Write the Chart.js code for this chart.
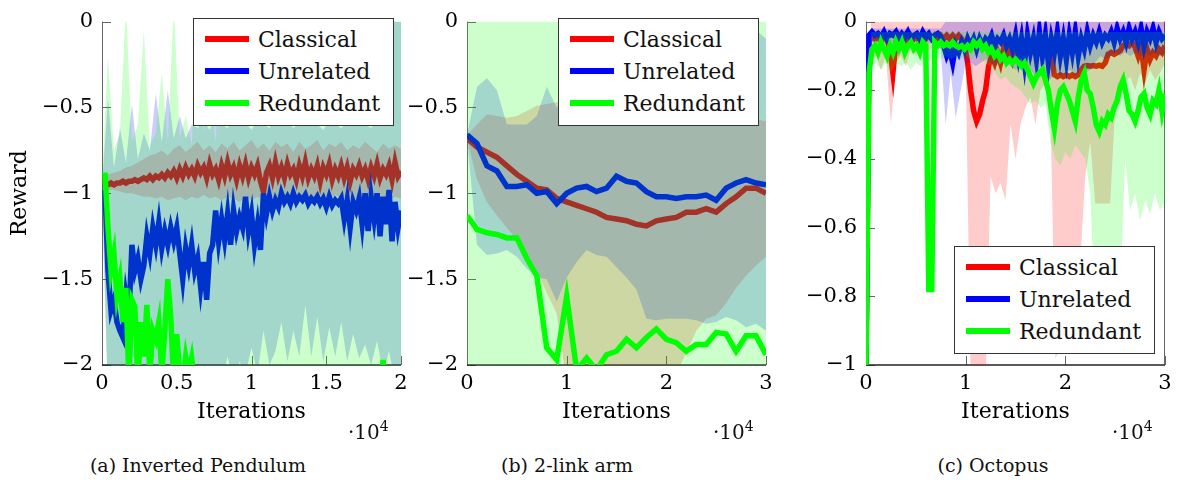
<!DOCTYPE html>
<html lang="en">
<head>
<meta charset="UTF-8">
<title>Reward over iterations</title>
<style>
    body { margin: 0; background: #fff; font-family: 'DejaVu Serif', serif; color: #111; }
    .wrap { position: relative; width: 1182px; height: 480px; overflow: hidden; }
    canvas { position: absolute; top: 0; }
    .legend { position: absolute; width: 201px; height: 108px; box-sizing: border-box; border: 1.5px solid #333; background: #fff; font-size: 22px; }
    .legend .row { position: absolute; left: 0; height: 32px; display: flex; align-items: center; white-space: nowrap; }
    .legend .swatch { width: 44px; height: 5.5px; margin-left: 11px; margin-right: 9px; }
    .mult { position: absolute; top: 418px; font-size: 20px; }
    .mult sup { font-size: 14px; }
    .caption { position: absolute; top: 454px; font-size: 19px; transform: translateX(-50%); white-space: nowrap; }
</style>
</head>
<body>
<div class="wrap">
    <canvas id="chartA" width="431" height="425" style="left:0px"></canvas>
    <canvas id="chartB" width="431" height="425" style="left:365px"></canvas>
    <canvas id="chartC" width="431" height="425" style="left:764px"></canvas>

    <!-- legends -->
    <div class="legend" style="left:193px;top:18px">
        <div class="row" style="top:4px"><span class="swatch" style="background:#ff0000"></span>Classical</div>
        <div class="row" style="top:36px"><span class="swatch" style="background:#0000ff"></span>Unrelated</div>
        <div class="row" style="top:68px"><span class="swatch" style="background:#00ff00"></span>Redundant</div>
    </div>
    <div class="legend" style="left:558px;top:18px">
        <div class="row" style="top:4px"><span class="swatch" style="background:#ff0000"></span>Classical</div>
        <div class="row" style="top:36px"><span class="swatch" style="background:#0000ff"></span>Unrelated</div>
        <div class="row" style="top:68px"><span class="swatch" style="background:#00ff00"></span>Redundant</div>
    </div>
    <div class="legend" style="left:954px;top:246px">
        <div class="row" style="top:4px"><span class="swatch" style="background:#ff0000"></span>Classical</div>
        <div class="row" style="top:36px"><span class="swatch" style="background:#0000ff"></span>Unrelated</div>
        <div class="row" style="top:68px"><span class="swatch" style="background:#00ff00"></span>Redundant</div>
    </div>

    <div class="mult" style="left:348px">·10<sup>4</sup></div>
    <div class="mult" style="left:713px">·10<sup>4</sup></div>
    <div class="mult" style="left:1112px">·10<sup>4</sup></div>

    <div class="caption" style="left:198px">(a) Inverted Pendulum</div>
    <div class="caption" style="left:567px">(b) 2-link arm</div>
    <div class="caption" style="left:993px">(c) Octopus</div>
</div>

<script src="https://cdn.jsdelivr.net/npm/chart.js"></script>
<script>
// ---------- (a) Inverted Pendulum : lines every 200 iterations, bands every 400 ----------
const stepA = 200;
const bandStepA = 400;
const redA = [
    -0.95,-0.95,-0.94,-0.95,-0.94,-0.94,-0.93,-0.94,-0.93,-0.93,
    -0.92,-0.93,-0.92,-0.91,-0.92,-0.90,-0.92,-0.90,-0.91,-0.89,
    -0.91,-0.88,-0.90,-0.87,-0.91,-0.86,-0.90,-0.85,-0.89,-0.86,
    -0.90,-0.84,-0.88,-0.85,-0.91,-0.83,-0.89,-0.86,-0.92,-0.84,
    -0.90,-0.82,-0.89,-0.85,-0.92,-0.84,-0.90,-0.83,-0.91,-0.85,
    -0.89,-0.84,-0.93,-0.99,-0.88,-0.84,-0.91,-0.82,-0.90,-0.85,
    -0.91,-0.83,-0.89,-0.86,-0.92,-0.84,-0.90,-0.82,-0.91,-0.86,
    -0.90,-0.84,-0.93,-0.85,-0.89,-0.83,-0.92,-0.86,-0.90,-0.84,
    -0.91,-0.85,-0.93,-0.86,-0.89,-0.84,-0.90,-0.86,-0.92,-0.85,
    -0.90,-0.83,-0.91,-0.86,-0.89,-0.84,-0.92,-0.82,-0.90,-0.87
];
const blueA = [
    -0.98,-1.45,-1.68,-1.62,-1.75,-1.80,-1.84,-1.60,-1.72,-1.30,
    -1.45,-1.38,-1.50,-1.42,-1.25,-1.35,-1.20,-1.30,-1.17,-1.32,
    -1.22,-1.30,-1.20,-1.28,-1.20,-1.35,-1.50,-1.32,-1.42,-1.30,
    -1.45,-1.38,-1.55,-1.40,-1.62,-1.35,-1.30,-1.10,-1.28,-1.15,
    -1.27,-1.12,-1.30,-1.10,-1.22,-1.14,-1.20,-1.02,-1.22,-1.12,
    -1.30,-1.18,-1.33,-1.00,-1.12,-1.02,-1.10,-1.04,-1.08,-1.00,
    -1.05,-1.02,-1.06,-1.00,-1.05,-1.02,-1.04,-1.01,-1.06,-1.03,
    -1.05,-1.02,-1.06,-1.03,-1.08,-1.02,-1.07,-1.04,-1.06,-1.03,
    -1.15,-1.04,-1.20,-1.05,-1.10,-1.03,-1.18,-1.00,-1.22,-1.02,
    -1.15,-1.00,-1.25,-1.02,-1.18,-0.98,-1.28,-1.05,-1.20,-1.10
];
const greenA = [
    -0.88,-1.20,-1.45,-1.35,-1.60,-1.50,-1.75,-1.55,-2.10,-1.62,
    -1.66,-2.10,-1.75,-1.95,-1.65,-2.05,-1.80,-1.85,-1.75,-2.05,
    -1.80,-1.50,-1.72,-2.10,-1.82,-2.05,-2.10,-1.95,-2.05,-1.96,
    -2.10,-2.20,-2.20,-2.20,-2.20,-2.20,-2.20,-2.20,-2.20,-2.20,
    -2.20,-2.20,-2.20,-2.20,-2.20,-2.20,-2.20,-2.20,-2.20,-2.20,
    -2.20,-2.20,-2.20,-2.20,-2.20,-2.20,-2.20,-2.20,-2.20,-2.20,
    -2.20,-2.20,-2.20,-2.20,-2.20,-2.20,-2.20,-2.20,-2.20,-2.20,
    -2.20,-2.20,-2.20,-2.20,-2.20,-2.20,-2.20,-2.20,-2.20,-2.20,
    -2.20,-2.20,-2.20,-2.20,-2.20,-2.20,-2.20,-2.20,-2.20,-2.20,
    -2.20,-2.20,-2.20,-1.97,-2.20,-2.20,-2.20,-2.20,-2.20,-2.20
];
const redHiA = [
    -0.90,-0.89,-0.88,-0.87,-0.85,-0.84,-0.82,-0.80,-0.78,-0.77,
    -0.75,-0.78,-0.74,-0.72,-0.76,-0.73,-0.70,-0.75,-0.72,-0.76,
    -0.71,-0.74,-0.70,-0.75,-0.72,-0.69,-0.74,-0.71,-0.75,-0.70,
    -0.73,-0.71,-0.76,-0.70,-0.74,-0.72,-0.69,-0.75,-0.71,-0.73,
    -0.70,-0.75,-0.72,-0.74,-0.70,-0.73,-0.76,-0.71,-0.74,-0.72,-0.74
];
const redLoA = [
    -0.97,-0.98,-0.98,-0.99,-1.00,-1.00,-1.01,-1.02,-1.02,-1.03,
    -1.02,-1.04,-1.03,-1.02,-1.04,-1.02,-1.03,-1.01,-1.03,-1.02,
    -1.04,-1.02,-1.03,-1.05,-1.02,-1.04,-1.02,-1.03,-1.01,-1.03,
    -1.02,-1.04,-1.02,-1.03,-1.01,-1.03,-1.04,-1.02,-1.03,-1.01,
    -1.03,-1.02,-1.04,-1.02,-1.03,-1.01,-1.03,-1.02,-1.04,-1.02,-1.03
];
const blueHiA = [
    -0.95,-0.45,-0.85,-0.62,-0.82,-0.48,-0.80,-0.65,-0.75,-0.42,
    -0.70,-0.40,-0.68,-0.55,-0.68,-0.60,-0.62,-0.58,-0.63,-0.56,
    -0.60,-0.62,-0.57,-0.61,-0.59,-0.63,-0.58,-0.60,-0.62,-0.57,
    -0.60,-0.58,-0.62,-0.59,-0.61,-0.57,-0.60,-0.63,-0.58,-0.60,
    -0.62,-0.59,-0.61,-0.58,-0.60,-0.62,-0.57,-0.45,-0.30,0.10,0.10
];
const blueLoA = [
    -1.00,-2.20,-2.20,-2.20,-2.20,-2.20,-2.20,-2.20,-2.20,-2.20,
    -2.20,-2.20,-2.20,-2.20,-2.20,-2.20,-2.20,-2.20,-2.20,-2.05,
    -2.10,-1.95,-2.10,-1.98,-2.05,-1.90,-2.05,-1.80,-2.00,-1.92,
    -1.75,-1.98,-1.80,-1.95,-1.65,-1.95,-1.72,-1.98,-1.78,-1.95,
    -1.75,-1.98,-1.82,-1.96,-1.88,-2.00,-1.86,-2.05,-1.92,-2.10,-2.20
];
const greenHiA = [
    -0.90,-0.20,-0.75,-0.65,0.10,-0.70,-0.60,-0.05,-0.72,-0.65,
    -0.30,-0.70,0.10,-0.68,-0.55,-0.72,0.10,-0.65,-0.40,-0.70,
    -0.10,0.10,0.10,0.10,0.10,0.10,0.10,0.10,0.10,0.10,
    0.10,0.10,0.10,0.10,0.10,0.10,0.10,0.10,0.10,0.10,
    0.10,0.10,0.10,0.10,0.10,0.10,0.10,0.10,0.10,0.10,0.10
];
const greenLoA = [
    -1.00,-2.20,-2.20,-2.20,-2.20,-2.20,-2.20,-2.20,-2.20,-2.20,
    -2.20,-2.20,-2.20,-2.20,-2.20,-2.20,-2.20,-2.20,-2.20,-2.20,
    -2.20,-2.20,-2.20,-2.20,-2.20,-2.20,-2.20,-2.20,-2.20,-2.20,
    -2.20,-2.20,-2.20,-2.20,-2.20,-2.20,-2.20,-2.20,-2.20,-2.20,
    -2.20,-2.20,-2.20,-2.20,-2.20,-2.20,-2.20,-2.20,-2.20,-2.20,-2.20
];
const xTicksA = [0, 5000, 10000, 15000, 20000];
const xLabelsA = ['0', '0.5', '1', '1.5', '2'];
const yTicksA = [0, -0.5, -1, -1.5, -2];
const yLabelsA = ['0', '−0.5', '−1', '−1.5', '−2'];

// ---------- (b) 2-link arm : every 1000 iterations ----------
const stepB = 1000;
const redB = [
    -0.68,-0.73,-0.76,-0.79,-0.84,-0.89,-0.93,-0.97,-0.98,-1.03,
    -1.05,-1.07,-1.09,-1.11,-1.14,-1.15,-1.16,-1.18,-1.19,-1.16,
    -1.15,-1.14,-1.11,-1.11,-1.09,-1.11,-1.06,-1.02,-0.97,-0.97,-1.00
];
const blueB = [
    -0.66,-0.71,-0.84,-0.87,-0.96,-0.96,-0.95,-1.00,-0.99,-1.06,
    -1.00,-0.97,-0.96,-0.99,-0.97,-0.90,-0.93,-0.94,-0.99,-1.02,
    -1.02,-1.03,-1.02,-1.02,-1.01,-1.04,-0.97,-0.94,-0.92,-0.94,-0.95
];
const greenB = [
    -1.13,-1.21,-1.23,-1.24,-1.26,-1.26,-1.38,-1.48,-1.90,-1.97,
    -1.60,-2.03,-1.96,-2.03,-1.94,-1.92,-1.85,-1.90,-1.84,-1.79,
    -1.85,-1.87,-1.92,-1.88,-1.88,-1.81,-1.82,-1.92,-1.83,-1.83,-1.94
];
const redHiB = [
    -0.66,-0.60,-0.54,-0.55,-0.56,-0.55,-0.52,-0.49,-0.48,-0.47,
    -0.46,-0.45,-0.45,-0.44,-0.44,-0.45,-0.45,-0.46,-0.47,-0.48,
    -0.49,-0.50,-0.50,-0.51,-0.52,-0.53,-0.54,-0.55,-0.56,-0.57,-0.58
];
const redLoB = [
    -0.68,-0.92,-1.05,-1.13,-1.20,-1.27,-1.35,-1.45,-1.58,-1.70,
    -2.10,-2.10,-2.10,-2.10,-2.10,-2.10,-2.10,-2.10,-2.10,-2.10,
    -2.10,-2.05,-1.93,-1.80,-1.73,-1.71,-1.64,-1.55,-1.48,-1.42,-1.37
];
const blueHiB = [
    -0.66,-0.38,-0.33,-0.40,-0.60,-0.60,-0.60,-0.55,-0.38,-0.50,
    -0.45,-0.42,-0.40,-0.40,-0.38,-0.36,-0.35,-0.35,-0.33,-0.32,
    -0.30,-0.28,-0.25,-0.22,-0.18,-0.14,-0.10,-0.05,0.02,-0.05,-0.10
];
const blueLoB = [
    -0.68,-1.30,-1.36,-1.35,-1.33,-1.37,-1.44,-1.49,-1.50,-1.63,
    -1.49,-1.40,-1.33,-1.36,-1.37,-1.43,-1.49,-1.56,-1.73,-1.74,
    -1.73,-1.73,-1.73,-1.74,-1.76,-1.75,-1.72,-1.74,-1.78,-1.76,-1.80
];
const greenHiB = [
    0.20,0.20,0.20,0.20,0.20,0.20,0.20,0.20,0.20,0.20,
    0.20,0.20,0.20,0.20,0.20,0.20,0.20,0.20,0.20,0.20,
    0.20,0.20,0.20,0.20,0.20,0.20,0.20,0.20,0.20,0.20,0.20
];
const greenLoB = [
    -2.20,-2.20,-2.20,-2.20,-2.20,-2.20,-2.20,-2.20,-2.20,-2.20,
    -2.20,-2.20,-2.20,-2.20,-2.20,-2.20,-2.20,-2.20,-2.20,-2.20,
    -2.20,-2.20,-2.20,-2.20,-2.20,-2.20,-2.20,-2.20,-2.20,-2.20,-2.20
];
const xTicksB = [0, 10000, 20000, 30000];
const xLabelsB = ['0', '1', '2', '3'];

// ---------- (c) Octopus : lines every 300 iterations, bands every 500 ----------
const stepC = 300;
const bandStepC = 500;
const redC = [
    -1.00,-0.06,-0.04,-0.05,-0.04,-0.06,-0.04,-0.05,-0.08,-0.15,
    -0.06,-0.04,-0.05,-0.04,-0.06,-0.04,-0.05,-0.04,-0.06,-0.04,
    -0.05,-0.04,-0.05,-0.04,-0.05,-0.04,-0.05,-0.04,-0.05,-0.04,
    -0.05,-0.04,-0.05,-0.07,-0.12,-0.20,-0.26,-0.29,-0.27,-0.23,
    -0.20,-0.13,-0.10,-0.12,-0.09,-0.12,-0.08,-0.10,-0.08,-0.11,
    -0.08,-0.10,-0.07,-0.09,-0.06,-0.08,-0.05,-0.07,-0.05,-0.06,
    -0.05,-0.06,-0.10,-0.155,-0.16,-0.155,-0.16,-0.155,-0.16,-0.155,
    -0.16,-0.155,-0.14,-0.13,-0.128,-0.13,-0.128,-0.13,-0.127,-0.13,
    -0.12,-0.095,-0.09,-0.095,-0.09,-0.085,-0.07,-0.065,-0.07,-0.06,
    -0.075,-0.10,-0.07,-0.14,-0.08,-0.11,-0.09,-0.10,-0.08,-0.09,
    -0.07
];
const blueC = [
    -1.00,-0.04,-0.03,-0.04,-0.035,-0.045,-0.03,-0.05,-0.035,-0.04,
    -0.03,-0.05,-0.035,-0.045,-0.03,-0.05,-0.04,-0.035,-0.05,-0.03,
    -0.045,-0.035,-0.05,-0.04,-0.035,-0.045,-0.07,-0.10,-0.08,-0.12,
    -0.07,-0.09,-0.06,-0.08,-0.05,-0.07,-0.05,-0.08,-0.05,-0.07,
    -0.05,-0.06,-0.04,-0.07,-0.05,-0.06,-0.04,-0.07,-0.05,-0.08,
    -0.04,-0.10,-0.05,-0.12,-0.04,-0.09,-0.05,-0.11,-0.03,-0.10,
    -0.04,-0.12,-0.05,-0.09,-0.03,-0.10,-0.05,-0.11,-0.04,-0.09,
    -0.03,-0.10,-0.05,-0.08,-0.03,-0.07,-0.04,-0.06,-0.03,-0.06,
    -0.04,-0.05,-0.03,-0.06,-0.02,-0.05,-0.03,-0.06,-0.02,-0.05,
    -0.03,-0.06,-0.02,-0.07,-0.03,-0.05,-0.02,-0.06,-0.03,-0.05,
    -0.04
];
const greenC = [
    -1.00,-0.15,-0.08,-0.07,-0.09,-0.06,-0.08,-0.10,-0.07,-0.09,
    -0.06,-0.08,-0.06,-0.09,-0.07,-0.06,-0.08,-0.07,-0.09,-0.06,
    -0.07,-0.78,-0.78,-0.06,-0.07,-0.06,-0.07,-0.065,-0.07,-0.06,
    -0.07,-0.075,-0.07,-0.08,-0.07,-0.08,-0.06,-0.07,-0.06,-0.08,
    -0.07,-0.09,-0.08,-0.10,-0.09,-0.11,-0.10,-0.12,-0.11,-0.12,
    -0.11,-0.12,-0.13,-0.12,-0.14,-0.16,-0.18,-0.16,-0.15,-0.14,
    -0.17,-0.20,-0.26,-0.31,-0.24,-0.20,-0.19,-0.21,-0.23,-0.26,
    -0.29,-0.22,-0.17,-0.15,-0.20,-0.21,-0.25,-0.30,-0.32,-0.29,
    -0.30,-0.27,-0.28,-0.25,-0.23,-0.19,-0.17,-0.21,-0.26,-0.27,
    -0.29,-0.26,-0.22,-0.21,-0.25,-0.27,-0.23,-0.24,-0.20,-0.26,
    -0.21
];
const redHiC = [
    -0.90,0,0,0,0,0,0,0,0,0,
    0,0,0,0,0,0,0,0,0,0,
    0,0,0,0,0,0,0,0,0,0,
    0,0,0,0,0,0,0,0,0,0,
    0,0,0,0,0,0,0,0,0,0,
    0,0,0,0,0,0,0,0,0,0,
    0
];
const redLoC = [
    -1.00,-0.12,-0.10,-0.14,-0.10,-0.30,-0.12,-0.10,-0.13,-0.08,
    -0.10,-0.08,-0.09,-0.08,-0.07,-0.08,-0.07,-0.08,-0.07,-0.08,
    -0.12,-1.05,-1.05,-1.05,-1.05,-0.45,-0.50,-0.47,-0.52,-0.30,
    -0.40,-0.30,-0.25,-0.22,-0.30,-0.20,-0.18,-0.25,-0.98,-0.95,
    -0.90,-0.85,-0.80,-0.70,-0.45,-0.35,-0.53,-0.53,-0.53,-0.53,
    -0.25,-0.20,-0.18,-0.16,-0.20,-0.15,-0.18,-0.14,-0.17,-0.15,
    -0.12
];
const blueHiC = [
    -0.90,-0.02,-0.02,-0.02,-0.02,-0.02,-0.02,-0.02,-0.02,-0.02,
    -0.02,-0.02,-0.02,-0.02,-0.02,-0.02,0,0,0,0,
    0,0,0,0,0,0,0,0,0,0,
    0,0,0,0,0,0,0,0,0,0,
    0,0,0,0,0,0,0,0,0,0,
    0,0,0,0,0,0,0,0,0,0,
    0
];
const blueLoC = [
    -1.00,-0.06,-0.06,-0.07,-0.06,-0.06,-0.07,-0.06,-0.06,-0.07,
    -0.06,-0.06,-0.07,-0.06,-0.06,-0.08,-0.30,-0.15,-0.28,-0.20,
    -0.12,-0.12,-0.13,-0.12,-0.11,-0.12,-0.13,-0.12,-0.11,-0.13,
    -0.14,-0.13,-0.15,-0.14,-0.16,-0.13,-0.15,-0.17,-0.14,-0.16,
    -0.15,-0.14,-0.16,-0.13,-0.15,-0.14,-0.12,-0.10,-0.11,-0.10,
    -0.09,-0.10,-0.09,-0.10,-0.09,-0.10,-0.09,-0.10,-0.09,-0.10,
    -0.09
];
const greenHiC = [
    -0.90,-0.03,-0.03,-0.03,-0.03,-0.03,-0.03,-0.03,-0.03,-0.03,
    -0.03,-0.03,-0.03,-0.03,-0.03,-0.03,-0.03,-0.03,-0.03,-0.03,
    -0.03,-0.03,-0.03,-0.03,-0.03,-0.03,-0.03,-0.03,-0.03,-0.03,
    -0.03,-0.03,-0.03,-0.03,-0.03,-0.03,-0.03,-0.03,-0.03,-0.03,
    -0.03,-0.03,-0.03,-0.03,-0.03,-0.03,-0.03,-0.03,-0.03,-0.03,
    -0.03,-0.03,-0.03,-0.03,-0.03,-0.03,-0.03,-0.03,-0.03,-0.03,
    -0.03
];
const greenLoC = [
    -1.00,-0.13,-0.12,-0.14,-0.12,-0.15,-0.12,-0.13,-0.12,-0.14,
    -0.12,-0.13,-0.12,-0.11,-0.10,-0.11,-0.10,-0.11,-0.10,-0.11,
    -0.10,-0.11,-0.10,-0.11,-0.12,-0.13,-0.15,-0.17,-0.16,-0.18,
    -0.19,-0.20,-0.22,-0.24,-0.23,-0.25,-0.24,-0.35,-0.40,-0.42,
    -0.38,-0.40,-0.36,-0.38,-0.40,-0.50,-0.85,-0.86,-0.84,-0.85,
    -0.82,-0.80,-0.40,-0.55,-0.50,-0.58,-0.52,-0.56,-0.50,-0.55,
    -0.52
];
const xTicksC = [0, 10000, 20000, 30000];
const xLabelsC = ['0', '1', '2', '3'];
const yTicksC = [0, -0.2, -0.4, -0.6, -0.8, -1];
const yLabelsC = ['0', '−0.2', '−0.4', '−0.6', '−0.8', '−1'];

// iteration index for every sample
const itersA = redA.map((_, i) => stepA * (i + 1));
const bandItersA = redHiA.map((_, i) => bandStepA * i);
const itersB = redB.map((_, i) => stepB * i);
const itersC = redC.map((_, i) => stepC * i);
const bandItersC = redHiC.map((_, i) => bandStepC * i);

const RED = 'rgb(255,0,0)', BLUE = 'rgb(0,0,255)', GREEN = 'rgb(0,255,0)';
const RED_FILL = 'rgba(255,0,0,0.2)', BLUE_FILL = 'rgba(0,0,255,0.2)', GREEN_FILL = 'rgba(0,255,0,0.2)';

Chart.defaults.font.family = "'DejaVu Serif', serif";
Chart.defaults.color = '#000';

function pts(xs, ys) {
    return ys.map((y, i) => ({ x: xs[i], y: y }));
}

function lineSet(xs, ys, color, order) {
    return {
        data: pts(xs, ys), borderColor: color, borderWidth: 5.5, pointRadius: 0,
        fill: false, borderJoinStyle: 'miter', order: order, clip: 0
    };
}

// upper edge (invisible) + lower edge filled up to it
function bandSets(xs, hi, lo, color, order) {
    return [
        { data: pts(xs, hi), borderColor: 'rgba(0,0,0,0)', borderWidth: 0, pointRadius: 0, fill: false, order: 30, clip: 0 },
        { data: pts(xs, lo), borderColor: 'rgba(0,0,0,0)', borderWidth: 0, pointRadius: 0, fill: '-1', backgroundColor: color, order: order, clip: 0 }
    ];
}

// inward ticks and axis lines, under the data like the original
const axisFrame = {
    id: 'axisFrame',
    beforeDatasetsDraw(chart, args, opts) {
        const { ctx, chartArea: a, scales } = chart;
        ctx.save();
        ctx.lineWidth = 1;
        ctx.strokeStyle = '#666';
        ctx.beginPath();
        scales.y.ticks.forEach(t => {
            const py = Math.round(scales.y.getPixelForValue(t.value)) + 0.5;
            ctx.moveTo(a.left, py);
            ctx.lineTo(a.left + 9, py);
        });
        scales.x.ticks.forEach(t => {
            const px = Math.round(scales.x.getPixelForValue(t.value)) + 0.5;
            ctx.moveTo(px, a.bottom);
            ctx.lineTo(px, a.bottom - 9);
        });
        ctx.moveTo(a.left + 0.5, a.top);
        ctx.lineTo(a.left + 0.5, a.bottom);
        if (opts.right) {
            ctx.moveTo(a.right - 0.5, a.top);
            ctx.lineTo(a.right - 0.5, a.bottom);
        }
        ctx.stroke();
        ctx.strokeStyle = '#222';
        ctx.lineWidth = 1.5;
        ctx.beginPath();
        ctx.moveTo(a.left, a.bottom);
        ctx.lineTo(a.right, a.bottom);
        ctx.stroke();
        ctx.restore();
    }
};

function makeChart(id, p) {
    const datasets = [].concat(
        bandSets(p.bandX, p.redHi, p.redLo, RED_FILL, 8),
        [lineSet(p.lineX, p.red, RED, 9)],
        bandSets(p.bandX, p.blueHi, p.blueLo, BLUE_FILL, 6),
        [lineSet(p.lineX, p.blue, BLUE, 7)],
        bandSets(p.bandX, p.greenHi, p.greenLo, GREEN_FILL, 4),
        [lineSet(p.lineX, p.green, GREEN, 5)]
    );
    return new Chart(document.getElementById(id), {
        type: 'line',
        data: { datasets: datasets },
        options: {
            responsive: false,
            animation: false,
            devicePixelRatio: 1,
            layout: { autoPadding: false, padding: { left: 0, right: 30, top: 10, bottom: 0 } },
            plugins: { legend: { display: false }, tooltip: { enabled: false }, axisFrame: { right: p.rightLine } },
            scales: {
                x: {
                    type: 'linear', min: p.xMin, max: p.xMax,
                    afterBuildTicks: s => { s.ticks = p.xTicks.map(v => ({ value: v })); },
                    afterFit: s => { s.height = 60; },
                    grid: { display: false, drawTicks: false },
                    border: { display: false },
                    ticks: { font: { size: 21 }, padding: 6, maxRotation: 0, autoSkip: false,
                             callback: (v, i) => p.xLabels[i] },
                    title: { display: true, text: 'Iterations', font: { size: 22 }, padding: { top: 0, bottom: 0 } }
                },
                y: {
                    type: 'linear', min: p.yMin, max: p.yMax,
                    afterBuildTicks: s => { s.ticks = p.yTicks.map(v => ({ value: v })); },
                    afterFit: s => { s.width = 102; },
                    grid: { display: false, drawTicks: false },
                    border: { display: false },
                    ticks: { font: { size: 21 }, padding: 9, autoSkip: false,
                             callback: (v, i) => p.yLabels[i] },
                    title: { display: !!p.yTitle, text: p.yTitle || '', font: { size: 22 }, padding: { top: 7, bottom: 0 } }
                }
            }
        },
        plugins: [axisFrame]
    });
}

makeChart('chartA', {
    lineX: itersA, bandX: bandItersA,
    red: redA, blue: blueA, green: greenA,
    redHi: redHiA, redLo: redLoA, blueHi: blueHiA, blueLo: blueLoA, greenHi: greenHiA, greenLo: greenLoA,
    xMin: 0, xMax: 20000, xTicks: xTicksA, xLabels: xLabelsA,
    yMin: -2, yMax: 0, yTicks: yTicksA, yLabels: yLabelsA,
    yTitle: 'Reward', rightLine: false
});

makeChart('chartB', {
    lineX: itersB, bandX: itersB,
    red: redB, blue: blueB, green: greenB,
    redHi: redHiB, redLo: redLoB, blueHi: blueHiB, blueLo: blueLoB, greenHi: greenHiB, greenLo: greenLoB,
    xMin: 0, xMax: 30000, xTicks: xTicksB, xLabels: xLabelsB,
    yMin: -2, yMax: 0, yTicks: yTicksA, yLabels: yLabelsA,
    rightLine: false
});

makeChart('chartC', {
    lineX: itersC, bandX: bandItersC,
    red: redC, blue: blueC, green: greenC,
    redHi: redHiC, redLo: redLoC, blueHi: blueHiC, blueLo: blueLoC, greenHi: greenHiC, greenLo: greenLoC,
    xMin: 0, xMax: 30000, xTicks: xTicksC, xLabels: xLabelsC,
    yMin: -1, yMax: 0, yTicks: yTicksC, yLabels: yLabelsC,
    rightLine: true
});
</script>
</body>
</html>
